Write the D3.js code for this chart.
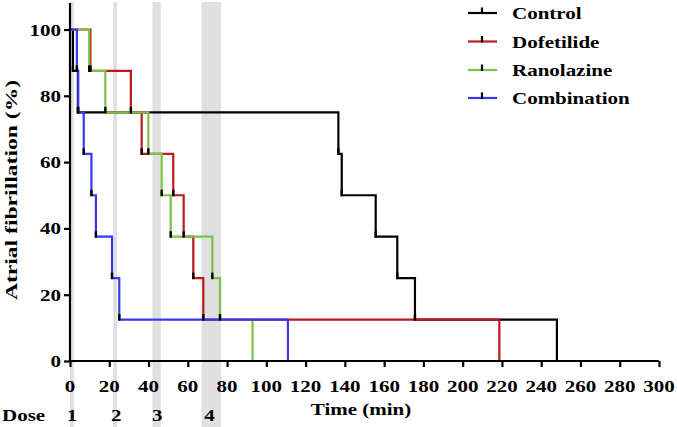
<!DOCTYPE html>
<html><head><meta charset="utf-8">
<script src="https://d3js.org/d3.v7.min.js"></script>
<style>body{margin:0;background:#fff}svg{display:block}</style>
</head><body>
<script>
// ---- data ----
const seriesNames = ["Control", "Dofetilide", "Ranolazine", "Combination"];
const seriesColors = ["#000000", "#c0161c", "#7cc242", "#3838ee"];
const levels = [87.5, 75, 62.5, 50, 37.5, 25, 12.5, 0];
const controlTimes = [1.5, 4, 136.7, 138.4, 155.7, 166.7, 175.7, 248];
const dofetilideTimes = [10.4, 31, 36.5, 52.6, 57.9, 62.8, 67.9, 218.7];
const ranolazineTimes = [9.8, 18, 39.9, 46.7, 51.3, 72.5, 76.4, 93];
const combinationTimes = [3.5, 4.2, 7, 10.9, 13.2, 21.4, 25.1, 111];
const xTicks = [0,20,40,60,80,100,120,140,160,180,200,220,240,260,280,300];
const yTicks = [0,20,40,60,80,100];
const doseBands = [[0,2],[22,24],[42,46.2],[67,77]];
const doseLabels = ["1","2","3","4"];
const doseLabelTimes = [1, 23.5, 44.5, 71];

const W = 677, H = 427;
const svg = d3.select("body").append("svg").attr("width", W).attr("height", H);
const x = d3.scaleLinear().domain([0,300]).range([70,659]);
const y = d3.scaleLinear().domain([0,108]).range([361,3]);
const FONT = "'Liberation Serif','Times New Roman',serif";
const SX = 1.2;

function txt(g, s, px, py, anchor, size, extra) {
  return g.append("text").text(s)
    .attr("transform", `translate(${px},${py}) ${extra || `scale(${SX},1)`}`)
    .attr("text-anchor", anchor).attr("font-family", FONT)
    .attr("font-weight", "bold").attr("font-size", size).attr("fill", "#000");
}

// dose bands
svg.append("g").selectAll("rect").data(doseBands).join("rect")
  .attr("x", d => x(d[0])).attr("width", d => x(d[1]) - x(d[0]))
  .attr("y", 2).attr("height", H - 2).attr("fill", "#e0e0e0");

// curves
const all = [controlTimes, dofetilideTimes, ranolazineTimes, combinationTimes];
const line = d3.line().x(d => x(d[0])).y(d => y(d[1])).curve(d3.curveStepAfter);
all.forEach((times, i) => {
  const pts = [[0,100]].concat(times.map((t, j) => [t, levels[j]]));
  svg.append("path").attr("d", line(pts)).attr("fill", "none")
    .attr("stroke", seriesColors[i]).attr("stroke-width", 2.2);
});
all.forEach((times) => {
  svg.append("g").selectAll("line").data(times.map((t, j) => [t, levels[j]]).filter(d => d[1] > 0))
    .join("line")
    .attr("x1", d => x(d[0])).attr("x2", d => x(d[0]))
    .attr("y1", d => y(d[1]) - 5.5).attr("y2", d => y(d[1]) + 1)
    .attr("stroke", "#000").attr("stroke-width", 2.4);
});

// axes
const xAxis = svg.append("g").attr("transform", `translate(0,${y(0)})`)
  .call(d3.axisBottom(x).tickValues(xTicks).tickSize(6).tickFormat(""));
const yAxis = svg.append("g").attr("transform", `translate(${x(0)},0)`)
  .call(d3.axisLeft(y).tickValues(yTicks).tickSize(6).tickFormat(""));
[xAxis, yAxis].forEach(a => {
  a.select(".domain").attr("stroke", "#000").attr("stroke-width", 2.2);
  a.selectAll(".tick line").attr("stroke", "#000").attr("stroke-width", 2.2);
});
xAxis.select(".domain").attr("d", `M${x(0)},0H${x(300)}`);
yAxis.select(".domain").attr("d", `M0,${y(0)}V${y(108)}`);

const tg = svg.append("g");
xTicks.forEach(v => txt(tg, String(v), x(v), 392, "middle", 17.5));
yTicks.forEach(v => txt(tg, String(v), 61, y(v) + 6, "end", 17.5));

txt(tg, "Time (min)", 361, 415, "middle", 17.5);
txt(tg, "Dose", 2, 421, "start", 17.5);
doseLabels.forEach((s, i) => txt(tg, s, x(doseLabelTimes[i]), 421, "middle", 17.5));
txt(tg, "Atrial fibrillation (%)", 17, 190, "middle", 17.5, "rotate(-90) scale(1.35,1)");

// legend
const lg = svg.append("g");
const legY = [13, 41.5, 70, 98];
seriesNames.forEach((n, i) => {
  lg.append("line").attr("x1", 468).attr("x2", 497).attr("y1", legY[i]).attr("y2", legY[i])
    .attr("stroke", seriesColors[i]).attr("stroke-width", 2.2);
  lg.append("line").attr("x1", 482).attr("x2", 482).attr("y1", legY[i] - 5.5).attr("y2", legY[i] + 1)
    .attr("stroke", "#000").attr("stroke-width", 2.2);
  txt(lg, n, 512, legY[i] + 6, "start", 17.5);
});
</script>
</body></html>
